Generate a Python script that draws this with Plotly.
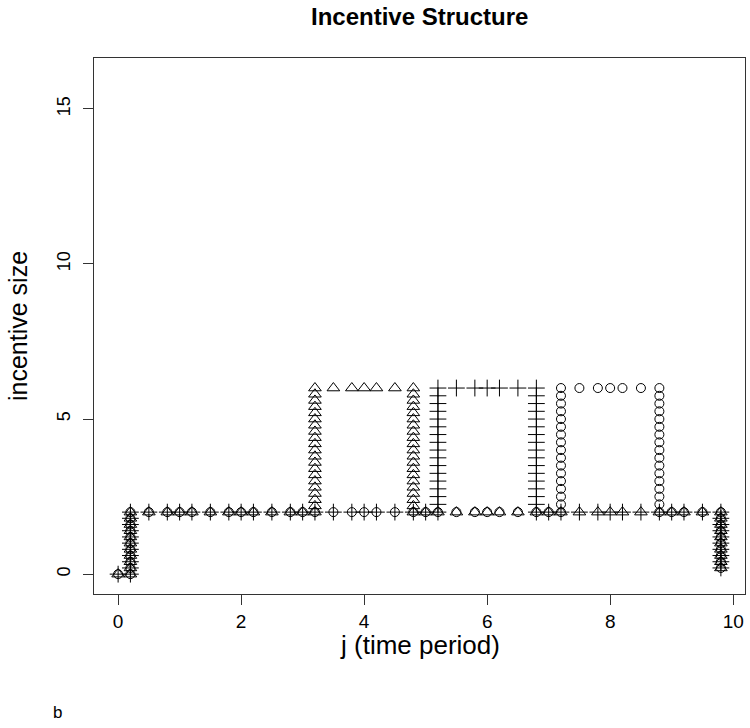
import plotly.graph_objects as go

# ---- data ----
x_ticks = [0, 2, 4, 6, 8, 10]
y_ticks = [0, 5, 10, 15]

# rising column at j = 0.2 and falling column at j = 9.8 (all three schemes)
start_col_y = [0.0, 0.2, 0.4, 0.6, 0.8, 1.0, 1.2, 1.4, 1.6, 1.8, 2.0]
end_col_y = [2.0, 1.8, 1.6, 1.4, 1.2, 1.0, 0.8, 0.6, 0.4, 0.2]

# base level row positions (incentive = 2)
row_a_x = [0.5, 0.8, 1.0, 1.2, 1.5, 1.8, 2.0, 2.2, 2.5, 2.8, 3.0]
row_b_x = [3.5, 3.8, 4.0, 4.2, 4.5]
row_c_x = [5.0]
row_d_x = [5.5, 5.8, 6.0, 6.2, 6.5]
row_e_x = [7.0]
row_f_x = [7.5, 7.8, 8.0, 8.2, 8.5]
row_g_x = [9.0, 9.2, 9.5]

# triangle scheme: high incentive between j=3.2 and j=4.8
tri_up_y = [2.0, 2.2, 2.4, 2.6, 2.8, 3.0, 3.2, 3.4, 3.6, 3.8, 4.0,
            4.2, 4.4, 4.6, 4.8, 5.0, 5.2, 5.4, 5.6, 5.8, 6.0]
tri_down_y = [6.0, 5.8, 5.6, 5.4, 5.2, 5.0, 4.8, 4.6, 4.4, 4.2, 4.0,
              3.8, 3.6, 3.4, 3.2, 3.0, 2.8, 2.6, 2.4, 2.2, 2.0]
# plus scheme: high incentive between j=5.2 and j=6.8
plus_up_y = [2.0, 2.25, 2.5, 2.75, 3.0, 3.25, 3.5, 3.75, 4.0,
             4.25, 4.5, 4.75, 5.0, 5.25, 5.5, 5.75, 6.0]
plus_down_y = [6.0, 5.75, 5.5, 5.25, 5.0, 4.75, 4.5, 4.25, 4.0,
               3.75, 3.5, 3.25, 3.0, 2.75, 2.5, 2.25, 2.0]
# circle scheme: high incentive between j=7.2 and j=8.8
circ_up_y = plus_up_y
circ_down_y = plus_down_y


def build(hi_cols, up_y, down_y, hi_row):
    xs, ys = [0.0], [0.0]
    xs += [0.2] * len(start_col_y); ys += start_col_y
    segs = [row_a_x, [3.2], row_b_x, [4.8], row_c_x, [5.2], row_d_x,
            [6.8], row_e_x, [7.2], row_f_x, [8.8], row_g_x]
    for seg in segs:
        if seg == [hi_cols[0]]:
            xs += seg * len(up_y); ys += up_y
        elif seg == [hi_cols[1]]:
            xs += seg * len(down_y); ys += down_y
        elif seg is hi_row:
            xs += seg; ys += [6.0] * len(seg)
        else:
            xs += seg; ys += [2.0] * len(seg)
    xs += [9.8] * len(end_col_y); ys += end_col_y
    return xs, ys


tri_x, tri_y = build((3.2, 4.8), tri_up_y, tri_down_y, row_b_x)
plus_x, plus_y = build((5.2, 6.8), plus_up_y, plus_down_y, row_d_x)
circ_x, circ_y = build((7.2, 8.8), circ_up_y, circ_down_y, row_f_x)

FONT = "Liberation Sans, Arial, Helvetica, sans-serif"

fig = go.Figure()
fig.add_trace(go.Scatter(x=circ_x, y=circ_y, mode="markers",
                         marker=dict(symbol="circle-open", size=9,
                                     color="black", line=dict(width=1, color="black"))))
fig.add_trace(go.Scatter(x=plus_x, y=plus_y, mode="markers",
                         marker=dict(symbol="cross-thin-open", size=12,
                                     color="black", line=dict(width=1, color="black"))))
fig.add_trace(go.Scatter(x=tri_x, y=tri_y, mode="markers",
                         marker=dict(symbol="triangle-up-open", size=11,
                                     color="black", line=dict(width=1, color="black"))))

axis_common = dict(showgrid=False, zeroline=False, showline=True, mirror=True,
                   automargin=False,
                   linecolor="#333333", linewidth=1.3, ticks="outside", ticklen=10,
                   tickcolor="#333333", tickwidth=1.2)

fig.update_layout(
    width=750, height=728,
    margin=dict(l=94, r=5, t=58, b=134),
    paper_bgcolor="white", plot_bgcolor="white",
    showlegend=False,
    xaxis=dict(range=[-0.392, 10.192], tickvals=x_ticks,
               ticktext=[str(v) for v in x_ticks],
               tickfont=dict(family=FONT, size=19, color="black"), **axis_common),
    yaxis=dict(range=[-0.64, 16.64], tickvals=y_ticks,
               ticktext=[str(v) for v in y_ticks], tickangle=-90,
               ticklabelstandoff=6,
               tickfont=dict(family=FONT, size=18, color="black"), **axis_common),
    annotations=[
        dict(text="<b>Incentive Structure</b>", xref="paper", yref="paper",
             x=0.5, y=1, yshift=42, xanchor="center", yanchor="middle",
             showarrow=False, font=dict(family=FONT, size=24, color="black")),
        dict(text="j (time period)", xref="paper", yref="paper",
             x=0.5, y=0, yshift=-51, xanchor="center", yanchor="middle",
             showarrow=False, font=dict(family=FONT, size=26, color="black")),
        dict(text="incentive size", xref="paper", yref="paper",
             x=0, xshift=-76, y=0.5, textangle=-90, xanchor="center",
             yanchor="middle", showarrow=False,
             font=dict(family=FONT, size=25, color="black")),
        dict(text="b", xref="paper", yref="paper",
             x=0, xshift=-37, y=0, yshift=-118, xanchor="center",
             yanchor="middle", showarrow=False,
             font=dict(family=FONT, size=17, color="black")),
    ],
)

fig.write_html(
    "out.html",
    config={"displayModeBar": False},
    post_script="document.body.style.margin='0';document.body.style.overflow='hidden';",
)
